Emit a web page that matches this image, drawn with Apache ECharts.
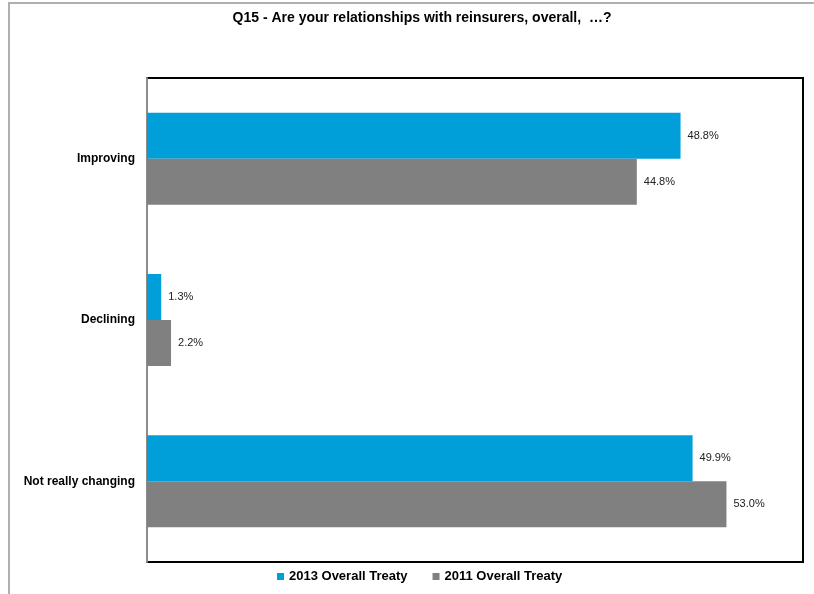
<!DOCTYPE html>
<html>
<head>
<meta charset="utf-8">
<script src="https://cdn.jsdelivr.net/npm/echarts@6/dist/echarts.min.js"></script>
<style>
  html, body { margin: 0; padding: 0; background: #fff; }
  #chart { width: 814px; height: 594px; }
</style>
</head>
<body>
<div id="chart"></div>
<script>
// Survey answers, shares in percent
const categories = ['Improving', 'Declining', 'Not really changing'];
const treaty2013 = [48.8, 1.3, 49.9];
const treaty2011 = [44.8, 2.2, 53.0];
const seriesNames = ['2013 Overall Treaty', '2011 Overall Treaty'];

const FONT = '"Liberation Sans", Arial, sans-serif';

const chart = echarts.init(document.getElementById('chart'), null, { renderer: 'canvas' });

const valueLabel = {
  show: true,
  position: 'right',
  distance: 7,
  color: '#222',
  fontFamily: FONT,
  fontSize: 11,
  formatter: p => p.value.toFixed(1) + '%'
};

chart.setOption({
  animation: false,
  backgroundColor: '#fff',
  title: {
    text: 'Q15 - Are your relationships with reinsurers, overall,  \u2026?',
    left: 417,
    textAlign: 'center',
    top: 6,
    textStyle: { fontFamily: FONT, fontSize: 14, fontWeight: 'bold', color: '#000' }
  },
  graphic: [{
    type: 'rect',
    silent: true,
    shape: { x: 9, y: 3, width: 900, height: 700 },
    style: { fill: 'none', stroke: '#b0b0b0', lineWidth: 2 },
    z: -1
  }],
  legend: {
    bottom: 6,
    left: 272,
    itemWidth: 7,
    itemHeight: 7,
    itemGap: 25,
    icon: 'rect',
    textStyle: { fontFamily: FONT, fontSize: 13, fontWeight: 'bold', color: '#000' },
    data: seriesNames
  },
  grid: {
    left: 147,
    right: 11,
    top: 78,
    bottom: 32,
    show: true,
    borderColor: '#000',
    borderWidth: 2,
    containLabel: false
  },
  xAxis: {
    type: 'value',
    min: 0,
    max: 60,
    axisLine: { show: false },
    axisTick: { show: false },
    axisLabel: { show: false },
    splitLine: { show: false }
  },
  yAxis: {
    type: 'category',
    inverse: true,
    data: categories,
    axisLine: { show: true, lineStyle: { color: '#8c8c8c', width: 2 } },
    axisTick: { show: false },
    axisLabel: {
      margin: 12,
      fontFamily: FONT,
      fontSize: 12,
      fontWeight: 'bold',
      color: '#000'
    }
  },
  series: [
    {
      name: seriesNames[0],
      type: 'bar',
      data: treaty2013,
      barWidth: 46,
      barGap: '0%',
      itemStyle: { color: '#009fda' },
      label: valueLabel
    },
    {
      name: seriesNames[1],
      type: 'bar',
      data: treaty2011,
      barWidth: 46,
      barGap: '0%',
      itemStyle: { color: '#808080' },
      label: valueLabel
    }
  ]
});
</script>
</body>
</html>
